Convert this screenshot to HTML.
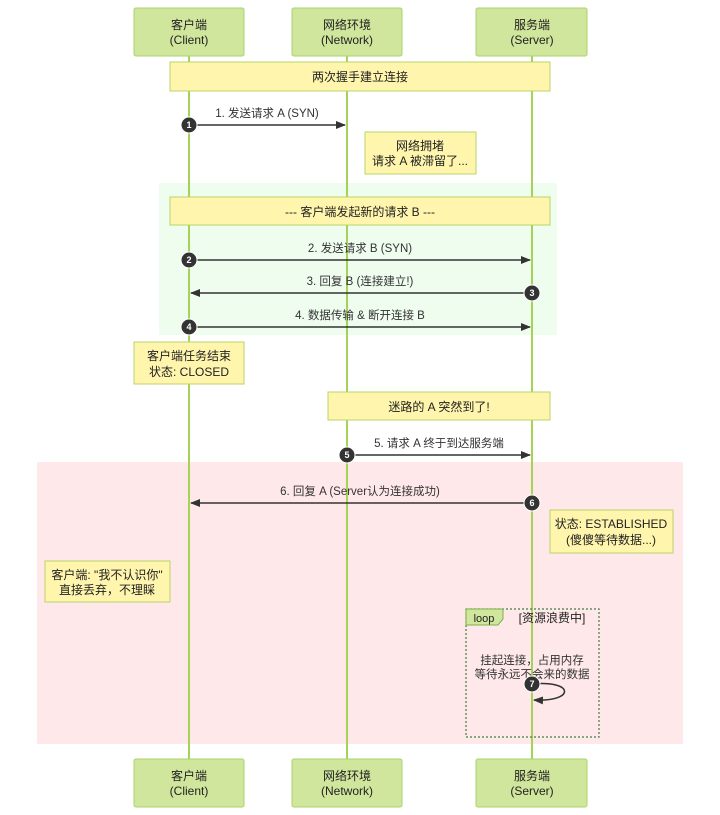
<!DOCTYPE html>
<html><head><meta charset="utf-8"><style>
html,body{margin:0;padding:0;background:#fff;}
svg{display:block;font-family:"Liberation Sans","Noto Sans CJK SC",sans-serif;}
</style></head><body>
<svg width="720" height="815" viewBox="0 0 720 815" xmlns="http://www.w3.org/2000/svg">
<defs>
<marker id="ar" markerWidth="10" markerHeight="10" refX="9" refY="5" orient="auto" markerUnits="userSpaceOnUse"><path d="M0,1 L10,5 L0,9 z" fill="#333"/></marker>
</defs>
<rect x="159" y="183" width="398" height="152" fill="#effdef"/>
<rect x="37" y="462" width="646" height="282" fill="#ffe8ea"/>
<g stroke="#a5d356" stroke-width="2">
<line x1="189" y1="56" x2="189" y2="759"/>
<line x1="347" y1="56" x2="347" y2="759"/>
<line x1="532" y1="56" x2="532" y2="759"/>
</g>
<g fill="#d0e69c" stroke="#a8d46a" stroke-width="1">
<rect x="134" y="8" width="110" height="48" rx="2"/>
<rect x="292" y="8" width="110" height="48" rx="2"/>
<rect x="476" y="8" width="111" height="48" rx="2"/>
<rect x="134" y="759" width="110" height="48" rx="2"/>
<rect x="292" y="759" width="110" height="48" rx="2"/>
<rect x="476" y="759" width="111" height="48" rx="2"/>
</g>
<g font-size="12" fill="#222" text-anchor="middle">
<text x="189" y="29">客户端</text><text x="189" y="44">(Client)</text>
<text x="347" y="29">网络环境</text><text x="347" y="44">(Network)</text>
<text x="532" y="29">服务端</text><text x="532" y="44">(Server)</text>
<text x="189" y="780">客户端</text><text x="189" y="795">(Client)</text>
<text x="347" y="780">网络环境</text><text x="347" y="795">(Network)</text>
<text x="532" y="780">服务端</text><text x="532" y="795">(Server)</text>
</g>
<g fill="#fff5ad" stroke="#b8d46a" stroke-width="1">
<rect x="170" y="62" width="380" height="29"/>
<rect x="365" y="132" width="111" height="42"/>
<rect x="170" y="197" width="380" height="28"/>
<rect x="134" y="342" width="110" height="42"/>
<rect x="328" y="392" width="222" height="28"/>
<rect x="550" y="510" width="123" height="43"/>
<rect x="45" y="561" width="125" height="41"/>
</g>
<g font-size="12" fill="#222" text-anchor="middle">
<text x="360" y="81">两次握手建立连接</text>
<text x="420" y="150">网络拥堵</text><text x="420" y="165">请求 A 被滞留了...</text>
<text x="360" y="216">--- 客户端发起新的请求 B ---</text>
<text x="189" y="360">客户端任务结束</text><text x="189" y="376">状态: CLOSED</text>
<text x="439" y="411">迷路的 A 突然到了!</text>
<text x="611" y="528">状态: ESTABLISHED</text><text x="611" y="544">(傻傻等待数据...)</text>
<text x="107" y="579">客户端: "我不认识你"</text><text x="107" y="594">直接丢弃，不理睬</text>
</g>
<g stroke="#333" stroke-width="1.5" marker-end="url(#ar)">
<line x1="189" y1="125" x2="345" y2="125"/>
<line x1="189" y1="260" x2="530" y2="260"/>
<line x1="532" y1="293" x2="191" y2="293"/>
<line x1="189" y1="327" x2="530" y2="327"/>
<line x1="347" y1="455" x2="530" y2="455"/>
<line x1="532" y1="503" x2="191" y2="503"/>
</g>
<g font-size="11.5" fill="#333" text-anchor="middle">
<text x="267" y="117">1. 发送请求 A (SYN)</text>
<text x="360" y="252">2. 发送请求 B (SYN)</text>
<text x="360" y="285">3. 回复 B (连接建立!)</text>
<text x="360" y="319">4. 数据传输 &amp; 断开连接 B</text>
<text x="439" y="447">5. 请求 A 终于到达服务端</text>
<text x="360" y="495">6. 回复 A (Server认为连接成功)</text>
</g>
<rect x="466" y="609" width="133" height="128" fill="none" stroke="#3f7f3f" stroke-width="1.2" stroke-dasharray="2,2"/>
<path d="M466,609 H503 V619 L498,625 H466 z" fill="#d0e69c" stroke="#7ab04a" stroke-width="1"/>
<text x="484" y="622" font-size="11" fill="#222" text-anchor="middle">loop</text>
<text x="552" y="622" font-size="12" fill="#222" text-anchor="middle">[资源浪费中]</text>
<text x="532" y="664" font-size="11.5" fill="#333" text-anchor="middle">挂起连接，占用内存</text>
<text x="532" y="678" font-size="11.5" fill="#333" text-anchor="middle">等待永远不会来的数据</text>
<path d="M532,684 C575,680 575,702 534,700" fill="none" stroke="#333" stroke-width="1.5" marker-end="url(#ar)"/>
<g fill="#333" stroke="#fff" stroke-width="1">
<circle cx="189" cy="125" r="8"/><circle cx="189" cy="260" r="8"/><circle cx="532" cy="293" r="8"/>
<circle cx="189" cy="327" r="8"/><circle cx="347" cy="455" r="8"/><circle cx="532" cy="503" r="8"/>
<circle cx="532" cy="684" r="8"/>
</g>
<g font-size="9" fill="#fff" text-anchor="middle" font-weight="bold">
<text x="189" y="128">1</text><text x="189" y="263">2</text><text x="532" y="296">3</text>
<text x="189" y="330">4</text><text x="347" y="458">5</text><text x="532" y="506">6</text><text x="532" y="687">7</text>
</g>
</svg>
</body></html>
